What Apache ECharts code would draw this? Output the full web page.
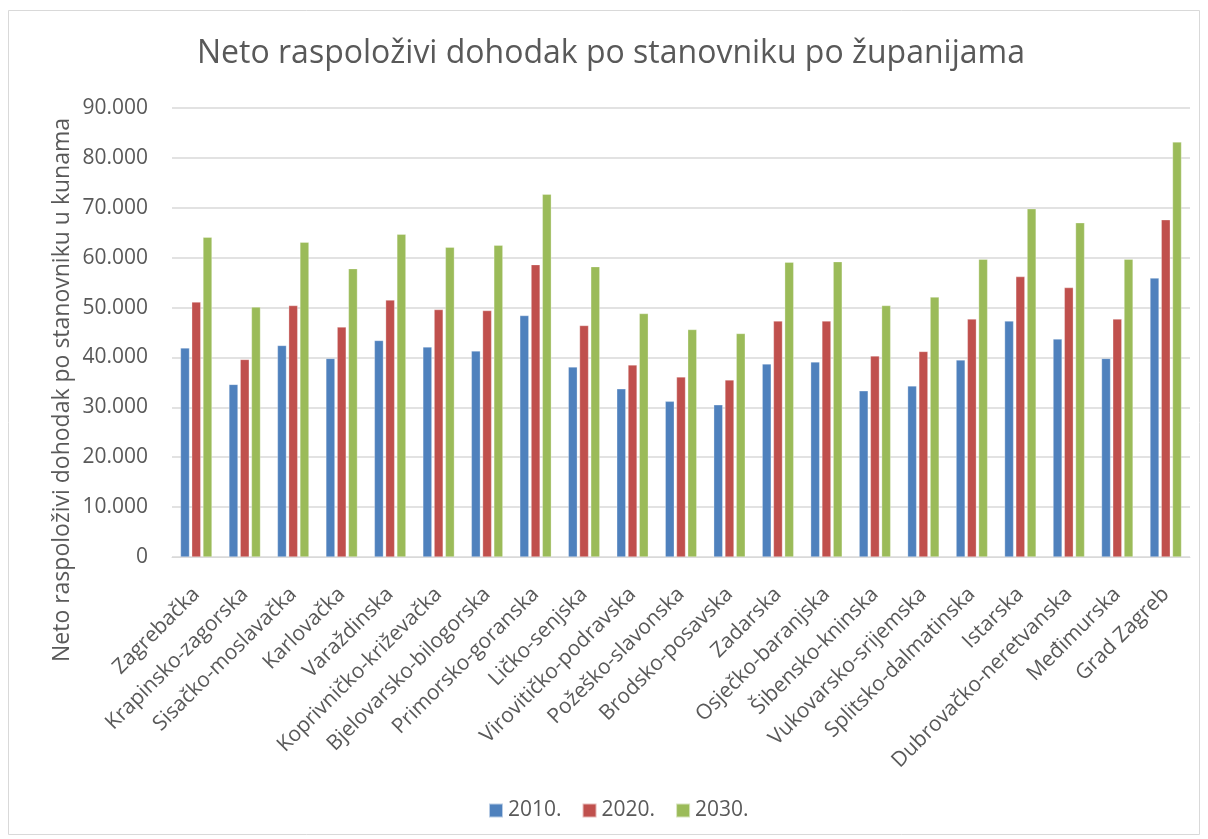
<!DOCTYPE html>
<html>
<head>
<meta charset="utf-8">
<script src="https://cdn.jsdelivr.net/npm/echarts@6/dist/echarts.min.js"></script>
<style>
html,body{margin:0;padding:0;background:#fff;}
#chart{width:1208px;height:839px;}
</style>
</head>
<body>
<div id="chart"></div>
<script>
const categories = ["Zagrebačka","Krapinsko-zagorska","Sisačko-moslavačka","Karlovačka","Varaždinska","Koprivničko-križevačka","Bjelovarsko-bilogorska","Primorsko-goranska","Ličko-senjska","Virovitičko-podravska","Požeško-slavonska","Brodsko-posavska","Zadarska","Osječko-baranjska","Šibensko-kninska","Vukovarsko-srijemska","Splitsko-dalmatinska","Istarska","Dubrovačko-neretvanska","Međimurska","Grad Zagreb"];
const values2010 = [41900,34600,42400,39800,43400,42100,41300,48400,38100,33700,31200,30500,38700,39100,33300,34300,39500,47300,43700,39800,55900];
const values2020 = [51100,39600,50400,46100,51500,49600,49400,58600,46400,38500,36100,35500,47300,47300,40300,41200,47700,56200,54000,47700,67600];
const values2030 = [64100,50100,63100,57800,64700,62100,62500,72700,58200,48800,45600,44800,59100,59200,50400,52100,59700,69800,67000,59700,83200];
const seriesNames = ["2010.","2020.","2030."];
const yTicks = {min:0,max:90000,interval:10000};

const chart = echarts.init(document.getElementById('chart'));
const font = "'Open Sans', 'Noto Sans', sans-serif";
const txt = '#595959';
function fmt(v){ return v===0 ? '0' : String(v).replace(/\B(?=(\d{3})+(?!\d))/g,'.'); }
const colors = ['#4F81BD','#C0504D','#9BBB59'];
const data = [values2010, values2020, values2030];

chart.setOption({
  animation:false,
  backgroundColor:'#fff',
  title:{text:'Neto raspoloživi dohodak po stanovniku po županijama',left:192,top:33,
    textStyle:{fontFamily:font,fontSize:32,fontWeight:'normal',color:txt}},
  graphic:[
    {type:'rect',shape:{x:8.5,y:10.5,width:1191,height:824},style:{fill:'none',stroke:'#D9D9D9',lineWidth:1},silent:true},
    {type:'text',x:62,y:390,rotation:Math.PI/2,style:{text:'Neto raspoloživi dohodak po stanovniku u kunama',fontFamily:font,fontSize:23,fill:txt,align:'center',verticalAlign:'middle'}}
  ],
  legend:{top:795,left:483,itemWidth:14,itemHeight:14,itemGap:20,icon:'rect',
    textStyle:{fontFamily:font,fontSize:21,color:txt},data:seriesNames},
  grid:{left:172,right:18,top:108,bottom:282,containLabel:false},
  xAxis:{type:'category',data:categories,
    axisLine:{lineStyle:{color:'#D9D9D9'}},axisTick:{show:false},
    axisLabel:{rotate:45,interval:0,fontFamily:font,fontSize:21,color:txt,margin:34}},
  yAxis:{type:'value',min:yTicks.min,max:yTicks.max,interval:yTicks.interval,
    axisLine:{show:false},axisTick:{show:false},
    splitLine:{lineStyle:{color:'#D9D9D9',width:1.5}},
    axisLabel:{fontFamily:font,fontSize:21,color:txt,margin:24,formatter:fmt}},
  series: seriesNames.map((n,i)=>({name:n,type:'bar',data:data[i],barWidth:9,barGap:'25%',
    itemStyle:{color:colors[i],borderColor:'rgba(255,255,255,0.6)',borderWidth:0.5}}))
});
</script>
</body>
</html>
